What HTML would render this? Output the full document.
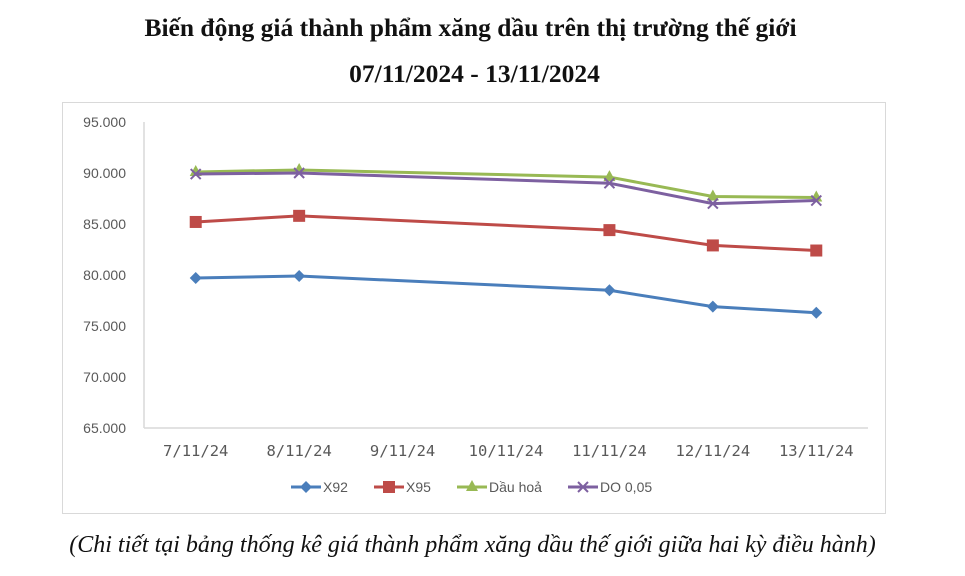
<!DOCTYPE html>
<html><head><meta charset="utf-8"><style>
body{margin:0;width:965px;height:576px;background:#fff;overflow:hidden;font-family:"Liberation Serif",serif}
.t{position:absolute;left:-20px;width:985px;text-align:center;font-weight:bold;font-size:25.5px;color:#111;white-space:nowrap}
</style></head><body>
<div class="t" style="top:13px;left:-22px">Biến động giá thành phẩm xăng dầu trên thị trường thế giới</div>
<div class="t" style="top:59px;left:-18px">07/11/2024 - 13/11/2024</div>
<svg id="c" width="965" height="576" style="position:absolute;left:0;top:0">
<rect x="62.5" y="102.5" width="823" height="411" fill="none" stroke="#d9d9d9"/>
</svg>
<div style="position:absolute;left:-10px;top:532px;width:965px;text-align:center;font-style:italic;font-size:24px;color:#111;white-space:nowrap">(Chi tiết tại bảng thống kê giá thành phẩm xăng dầu thế giới giữa hai kỳ điều hành)</div>
<script>
const categories=["7/11/24","8/11/24","9/11/24","10/11/24","11/11/24","12/11/24","13/11/24"];
const x92=[79.7,79.9,null,null,78.5,76.9,76.3];
const x95=[85.2,85.8,null,null,84.4,82.9,82.4];
const dauhoa=[90.1,90.3,null,null,89.6,87.7,87.6];
const do005=[89.9,90.0,null,null,89.0,87.0,87.3];
const yTicks=[65,70,75,80,85,90,95];
const yTickLabels=["65.000","70.000","75.000","80.000","85.000","90.000","95.000"];
const seriesNames=["X92","X95","Dầu hoả","DO 0,05"];
const NS="http://www.w3.org/2000/svg",svg=document.getElementById('c');
const L=144,R=868,T=122,B=428;
const xs=i=>L+(R-L)/categories.length*(i+0.5);
const ys=v=>B-(v-65)/30*(B-T);
function mk(t,a,p){const e=document.createElementNS(NS,t);for(const k in a)e.setAttribute(k,a[k]);(p||svg).appendChild(e);return e;}
let ax=mk('line',{x1:L,y1:T,x2:L,y2:B,stroke:'#d9d9d9','stroke-width':1.5});


let bx=mk('line',{x1:L,y1:B,x2:R,y2:B,stroke:'#d9d9d9','stroke-width':1.5});


yTicks.forEach((v,i)=>{const t=mk('text',{x:126,y:ys(v)+5,'text-anchor':'end','font-family':'Liberation Sans,sans-serif','font-size':14,fill:'#595959'});t.textContent=yTickLabels[i];

});
categories.forEach((c,i)=>{const t=mk('text',{x:xs(i),y:456,'text-anchor':'middle','font-family':'DejaVu Sans Mono,monospace','font-size':15.5,fill:'#595959'});t.textContent=c;

});
const colors=['#4a7ebb','#be4b48','#98b954','#7d60a0'];
const data=[x92,x95,dauhoa,do005];
function marker(k,x,y,g){
 const c=colors[k];
 if(k===0)mk('path',{d:`M${x} ${y-6}L${x+6} ${y}L${x} ${y+6}L${x-6} ${y}Z`,fill:c},g);
 else if(k===1)mk('rect',{x:x-6,y:y-6,width:12,height:12,fill:c},g);
 else if(k===2)mk('path',{d:`M${x} ${y-7}L${x+6} ${y+4}L${x-6} ${y+4}Z`,fill:c},g);
 else mk('path',{d:`M${x-5} ${y-5}L${x+5} ${y+5}M${x+5} ${y-5}L${x-5} ${y+5}`,stroke:c,'stroke-width':2},g);
}
data.forEach((s,k)=>{
 const g=mk('g',{});
 
 
 const pts=[];s.forEach((v,i)=>{if(v!==null)pts.push([xs(i),ys(v)]);});
 mk('polyline',{points:pts.map(p=>p.join(',')).join(' '),fill:'none',stroke:colors[k],'stroke-width':3},g);
 pts.forEach(p=>marker(k,p[0],p[1],g));
});
const lx=[291,374,457,568];
seriesNames.forEach((n,k)=>{
 const g=mk('g',{});
 
 
 mk('line',{x1:lx[k],y1:487,x2:lx[k]+30,y2:487,stroke:colors[k],'stroke-width':3},g);
 marker(k,lx[k]+15,487,g);
 const t=mk('text',{x:lx[k]+32,y:492,'font-family':'Liberation Sans,sans-serif','font-size':14,fill:'#595959'},g);t.textContent=n;
});
</script>
</body></html>
